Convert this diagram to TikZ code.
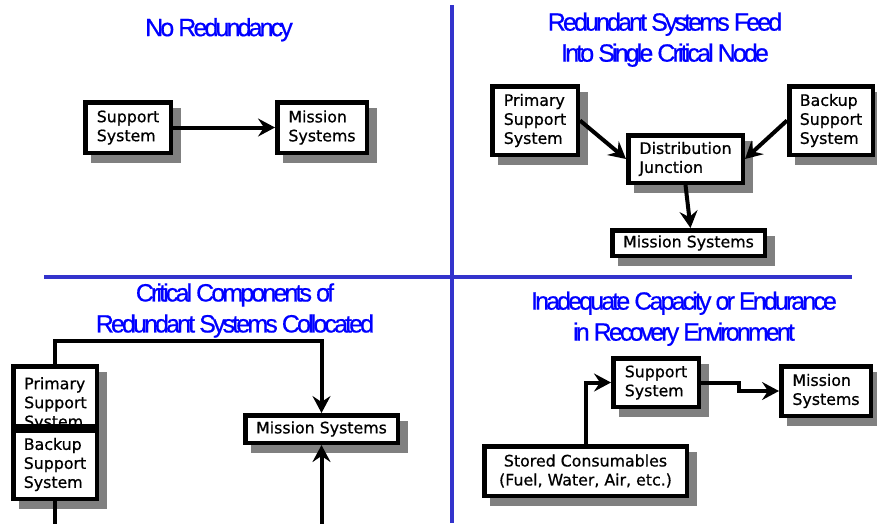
\documentclass[tikz,border=0pt]{standalone}
\usepackage{fontspec}
\usetikzlibrary{arrows.meta}
\newfontfamily\titlefont[LetterSpace=-11.5,FakeBold=0.6]{Liberation Sans}
\newfontfamily\bodyfont[FakeBold=0.7]{DejaVu Sans}
\definecolor{titleblue}{RGB}{0,0,255}
\definecolor{divblue}{RGB}{51,51,204}
\definecolor{shadowgray}{RGB}{128,128,128}
\tikzset{
  box/.style={draw, line width=4.5pt, fill=white, inner sep=0pt, align=left,
    font={\bodyfont\fontsize{15.8}{19}\selectfont},
    preaction={fill=shadowgray, draw=shadowgray, line width=4.5pt,
      transform canvas={shift={(8pt,-8pt)}}}},
  boxtext/.style={inner sep=0pt, align=left, font={\bodyfont\fontsize{15.8}{19}\selectfont}},
  title/.style={text=titleblue, align=center, inner sep=0pt,
    font={\titlefont\fontsize{25}{31}\selectfont}},
  arr/.style={line width=4pt, -{Stealth[length=17pt, width=18pt, inset=6pt]}},
  divider/.style={draw=divblue, line width=4.5pt}
}
\begin{document}
\begin{tikzpicture}[x=1pt, y=-1pt]
\useasboundingbox (0,0) rectangle (877,523);
\fill[white] (0,0) rectangle (877,523);
% dividers
\coordinate (vtop) at (452,5);
\coordinate (vbot) at (452,523);
\coordinate (hl) at (44,277);
\coordinate (hr) at (852,277);
\draw[divider] (vtop) -- (vbot);
\draw[divider] (hl) -- (hr);

% titles
\node[title] (t1) at (219,29.7) {No Redundancy};
\node[title] (t2) at (665,39.7) {Redundant Systems Feed\\Into Single Critical Node};
\node[title] (t3) at (235,310.5) {Critical Components of\\Redundant Systems Collocated};
\node[title] (t4) at (684,318.7) {Inadequate Capacity or Endurance\\in Recovery Environment};

% top left
\node[box, minimum width=85.5pt, minimum height=50.5pt] (ss1) at (128,127.5) {Support\\System};
\node[box, minimum width=89.5pt, minimum height=50.5pt] (ms1) at (322,127.5) {Mission\\Systems};
\draw[arr] (ss1.east) -- (ms1.west);

% top right
\node[box, minimum width=85.5pt, minimum height=68.5pt] (ps2) at (535,120.5) {Primary\\Support\\System};
\node[box, minimum width=83.5pt, minimum height=68.5pt] (bs2) at (831,120.5) {Backup\\Support\\System};
\node[box, minimum width=114.5pt, minimum height=47.5pt] (dj2) at (685.5,159) {Distribution\\Junction};
\node[box, minimum width=152.5pt, minimum height=25.5pt] (ms2) at (688.5,243) {Mission Systems};
\draw[arr] (ps2.east) -- (dj2.west);
\draw[arr] (bs2.west) -- (dj2.east);
\draw[arr] (dj2.south) -- ([xshift=2pt]ms2.north);

% bottom left
\fill[shadowgray] (99,420) rectangle (107,445);
\node[box, minimum width=83.5pt, minimum height=59.5pt] (ps3) at (55,396) {};
\node[boxtext, anchor=north west] (ps3t) at (24,377) {Primary\\Support\\System};
\node[box, minimum width=83.5pt, minimum height=68.5pt] (bs3) at (55,464.5) {Backup\\Support\\System};
\node[box, minimum width=152.5pt, minimum height=27.5pt] (ms3) at (321.5,429) {Mission Systems};
\draw[arr] (ps3.north) |- (ms3.north |- 0,341) -- (ms3.north);
\draw[arr] (bs3.south) |- (ms3.south |- 0,530) -- (ms3.south);

% bottom right
\node[box, minimum width=85.5pt, minimum height=48.5pt] (ss4) at (656,382.5) {Support\\System};
\node[box, minimum width=89.5pt, minimum height=49.5pt] (ms4) at (826,391) {Mission\\Systems};
\node[box, align=center, minimum width=202.5pt, minimum height=49.5pt] (sc4) at (585.5,471) {Stored Consumables\\(Fuel, Water, Air, etc.)};
\draw[arr] (sc4.north) |- (ss4.west);
\draw[arr] (ss4.east) -- ++(38,0) |- (ms4.west);
\end{tikzpicture}
\end{document}
